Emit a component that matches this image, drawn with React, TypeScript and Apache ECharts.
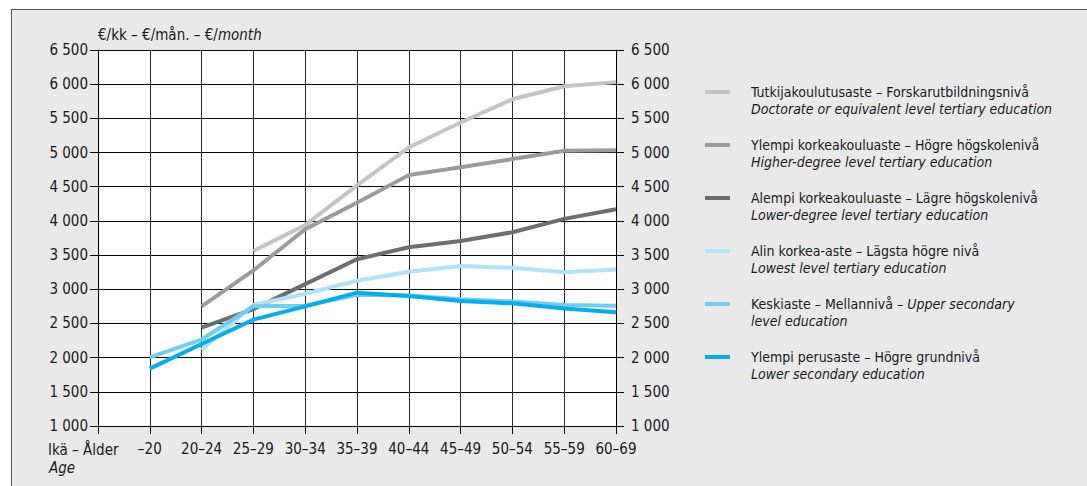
import React, { useEffect, useRef } from "react";
import * as echarts from "echarts";

const FONT = '"Liberation Sans Narrow", "DejaVu Sans Condensed", "Arial Narrow", sans-serif';
const TEXT = "#1a1a1a";

const ageGroups = ["–20", "20–24", "25–29", "30–34", "35–39", "40–44", "45–49", "50–54", "55–59", "60–69"];
const yTicksMin = 1000;
const yTicksMax = 6500;
const yTickStep = 500;

const doctorate = [null, null, 3560, 3940, 4520, 5075, 5440, 5780, 5970, 6030];
const higherDegree = [null, 2750, 3275, 3880, 4265, 4670, 4785, 4905, 5025, 5035];
const lowerDegree = [null, 2440, 2710, 3075, 3440, 3615, 3705, 3835, 4030, 4170];
const lowestTertiary = [null, 2110, 2770, 2935, 3125, 3255, 3340, 3315, 3250, 3290];
const upperSecondary = [2005, 2265, 2750, 2760, 2920, 2910, 2855, 2820, 2770, 2760];
const lowerSecondary = [1840, 2200, 2555, 2750, 2950, 2900, 2830, 2795, 2720, 2665];

const seriesDefs = [
  { key: "doc", data: doctorate, color: "#c4c4c4", fi: "Tutkijakoulutusaste – Forskarutbildningsnivå", en: "Doctorate or equivalent level tertiary education" },
  { key: "high", data: higherDegree, color: "#9b9b9b", fi: "Ylempi korkeakouluaste – Högre högskolenivå", en: "Higher-degree level tertiary education" },
  { key: "low", data: lowerDegree, color: "#6e6e6e", fi: "Alempi korkeakouluaste – Lägre högskolenivå", en: "Lower-degree level tertiary education" },
  { key: "lowest", data: lowestTertiary, color: "#b0e2f8", fi: "Alin korkea-aste – Lägsta högre nivå", en: "Lowest level tertiary education" },
  { key: "upper", data: upperSecondary, color: "#6dcdf3", fi: "Keskiaste – Mellannivå – ", en: "Upper secondary\nlevel education" },
  { key: "lowsec", data: lowerSecondary, color: "#00aeef", fi: "Ylempi perusaste – Högre grundnivå", en: "Lower secondary education" },
];

const categories = ["", ...ageGroups];

function fmtThousands(v: number) {
  const th = Math.floor(v / 1000);
  const rest = String(v % 1000).padStart(3, "0");
  return th > 0 ? `${th} ${rest}` : String(v);
}

function legendFormatter(name: string) {
  const d = seriesDefs.find((s) => s.key === name)!;
  if (d.key === "upper") {
    return `{e| }\n{a|${d.fi}}{b|Upper secondary}\n{b|level education}`;
  }
  return `{e| }\n{a|${d.fi}}\n{b|${d.en}}`;
}

export default function App() {
  const ref = useRef<HTMLDivElement>(null);
  useEffect(() => {
    const chart = echarts.init(ref.current!, null, { renderer: "svg" });
    const yAxisCommon = {
      type: "value",
      min: yTicksMin,
      max: yTicksMax,
      interval: yTickStep,
      axisLine: { show: true, lineStyle: { color: "#000", width: 1 } },
      axisTick: { show: true, length: 8, lineStyle: { color: "#000", width: 1 } },
    };
    chart.setOption({
      animation: false,
      textStyle: { fontFamily: FONT },
      grid: {
        left: 98,
        top: 50,
        right: 471,
        bottom: 60,
        show: true,
        backgroundColor: "#ffffff",
        borderWidth: 0,
      },
      xAxis: {
        type: "category",
        data: categories,
        boundaryGap: false,
        axisLine: { show: true, lineStyle: { color: "#000", width: 1 } },
        axisTick: { show: true, length: 8, interval: 0, lineStyle: { color: "#000" } },
        axisLabel: { interval: 0, margin: 15, fontSize: 15, color: TEXT, fontFamily: FONT },
        splitLine: { show: true, interval: 0, lineStyle: { color: "#2a2a2a", width: 1 } },
      },
      yAxis: [
        {
          ...yAxisCommon,
          position: "left",
          axisLabel: { margin: 10, fontSize: 15, color: TEXT, fontFamily: FONT, formatter: fmtThousands },
          splitLine: { show: true, lineStyle: { color: "#000", width: 1 } },
        },
        {
          ...yAxisCommon,
          position: "right",
          axisLabel: { margin: 15, fontSize: 15, color: TEXT, fontFamily: FONT, formatter: fmtThousands },
          splitLine: { show: false },
        },
      ],
      legend: {
        orient: "vertical",
        left: 705,
        top: 68,
        padding: 0,
        icon: "rect",
        itemWidth: 25,
        itemHeight: 4,
        itemGap: 5,
        selectedMode: false,
        data: seriesDefs.map((s) => s.key),
        formatter: legendFormatter,
        textStyle: {
          padding: [0, 0, 0, 16],
          rich: {
            e: { fontSize: 14, lineHeight: 17, fontFamily: FONT },
            a: { fontSize: 14, lineHeight: 17, color: TEXT, fontFamily: FONT },
            b: { fontSize: 14, lineHeight: 17, color: TEXT, fontFamily: FONT, fontStyle: "italic" },
          },
        },
      },
      series: seriesDefs.map((s) => ({
        name: s.key,
        type: "line",
        data: [null, ...s.data],
        showSymbol: false,
        symbol: "none",
        connectNulls: false,
        lineStyle: { color: s.color, width: 4, cap: "butt", join: "miter" },
        itemStyle: { color: s.color },
        emphasis: { disabled: true },
      })),
      graphic: {
        elements: [
          {
            type: "text",
            left: 98,
            top: 27,
            style: {
              text: "{a|€/kk – €/mån. – €/}{b|month}",
              rich: {
                a: { fontSize: 15, fontFamily: FONT, fill: TEXT },
                b: { fontSize: 15, fontFamily: FONT, fill: TEXT, fontStyle: "italic" },
              },
            },
          },
          {
            type: "text",
            left: 48,
            top: 442,
            style: { text: "Ikä – Ålder", fontSize: 15, fontFamily: FONT, fill: TEXT },
          },
          {
            type: "text",
            left: 49,
            top: 460,
            style: { text: "Age", fontSize: 15, fontFamily: FONT, fill: TEXT, fontStyle: "italic" },
          },
        ],
      },
    });
    return () => chart.dispose();
  }, []);
  return (
    <div style={{ position: "fixed", left: 0, top: 0, width: 1087, height: 486, background: "#fff", overflow: "hidden" }}>
      <div
        style={{
          position: "absolute",
          left: 11,
          top: 9,
          width: 1200,
          height: 600,
          background: "#e9e9e9",
          borderLeft: "1px solid #555",
          borderTop: "1px solid #555",
        }}
      />
      <div ref={ref} style={{ position: "absolute", left: 0, top: 0, width: 1087, height: 486 }} />
    </div>
  );
}
